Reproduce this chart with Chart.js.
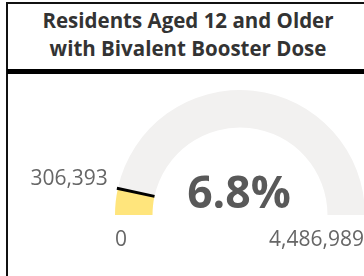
<!DOCTYPE html>
<html>
<head>
<meta charset="utf-8">
<script src="https://cdn.jsdelivr.net/npm/chart.js@4.4.1/dist/chart.umd.min.js"></script>
<style>
  html, body { margin: 0; padding: 0; width: 364px; height: 276px; overflow: hidden; background: #fff; }
  #frame { position: absolute; left: 6px; top: 2px; width: 420px; height: 300px;
           border-left: 2px solid #111; border-top: 2px solid #111; box-sizing: border-box; }
  #title { position: absolute; left: 8px; top: 6px; width: 360px; text-align: center;
           font-family: "Open Sans", sans-serif; font-weight: 700; font-size: 20.5px;
           line-height: 28px; color: #333; white-space: nowrap; }
  #bar { position: absolute; left: 7px; top: 69px; width: 420px; height: 5px; background: #000; }
  #wrap { position: absolute; left: 0; top: 0; width: 420px; height: 276px; }
</style>
</head>
<body>
<div id="frame"></div>
<div id="title">Residents Aged 12 and Older<br>with Bivalent Booster Dose</div>
<div id="bar"></div>
<div id="wrap"><canvas id="c" width="420" height="276"></canvas></div>
<script>
const categories = ["With bivalent booster", "Remaining"];
const boosted = 306393;
const population = 4486989;
const seriesValues = [boosted, population - boosted];
const tickLabels = ["0", "4,486,989"];
const valueLabel = "306,393";
const centerLabel = "6.8%";

const gaugeLabels = {
  id: "gaugeLabels",
  afterDatasetsDraw(chart) {
    const ctx = chart.ctx;
    const arc = chart.getDatasetMeta(0).data[0];
    const { x, y, outerRadius, innerRadius, endAngle } = arc.getProps(["x", "y", "outerRadius", "innerRadius", "endAngle"], true);
    ctx.save();
    ctx.strokeStyle = "#000";
    ctx.lineWidth = 3;
    ctx.beginPath();
    ctx.moveTo(x + Math.cos(endAngle) * innerRadius, y + Math.sin(endAngle) * innerRadius);
    ctx.lineTo(x + Math.cos(endAngle) * (outerRadius + 1), y + Math.sin(endAngle) * (outerRadius + 1));
    ctx.stroke();

    ctx.fillStyle = "#666";
    ctx.font = "21px 'Open Sans'";
    ctx.textBaseline = "middle";
    ctx.textAlign = "right";
    const ox = x + Math.cos(endAngle) * outerRadius;
    const oy = y + Math.sin(endAngle) * outerRadius;
    ctx.fillText(valueLabel, ox - 10, oy - 9);

    ctx.textAlign = "left";
    ctx.fillText(tickLabels[0], x - outerRadius, y + 25);
    ctx.textAlign = "right";
    ctx.fillText(tickLabels[1], 364, y + 25);

    ctx.fillStyle = "#595959";
    ctx.font = "bold 44.5px 'Open Sans'";
    ctx.textAlign = "center";
    ctx.textBaseline = "alphabetic";
    ctx.fillText(centerLabel, x - 1, y - 7);
    ctx.restore();
  }
};

new Chart(document.getElementById("c"), {
  type: "doughnut",
  data: {
    labels: categories,
    datasets: [{
      data: seriesValues,
      backgroundColor: ["#FFE57C", "#F2F1F0"],
      borderWidth: 0,
      hoverOffset: 0,
      offset: 0
    }]
  },
  options: {
    responsive: false,
    animation: false,
    rotation: -90,
    circumference: 180,
    cutout: "70%",
    layout: { padding: { left: 115, top: 90, right: 55, bottom: 61 } },
    plugins: { legend: { display: false }, tooltip: { enabled: false }, title: { display: false } },
    events: []
  },
  plugins: [gaugeLabels]
});
</script>
</body>
</html>
